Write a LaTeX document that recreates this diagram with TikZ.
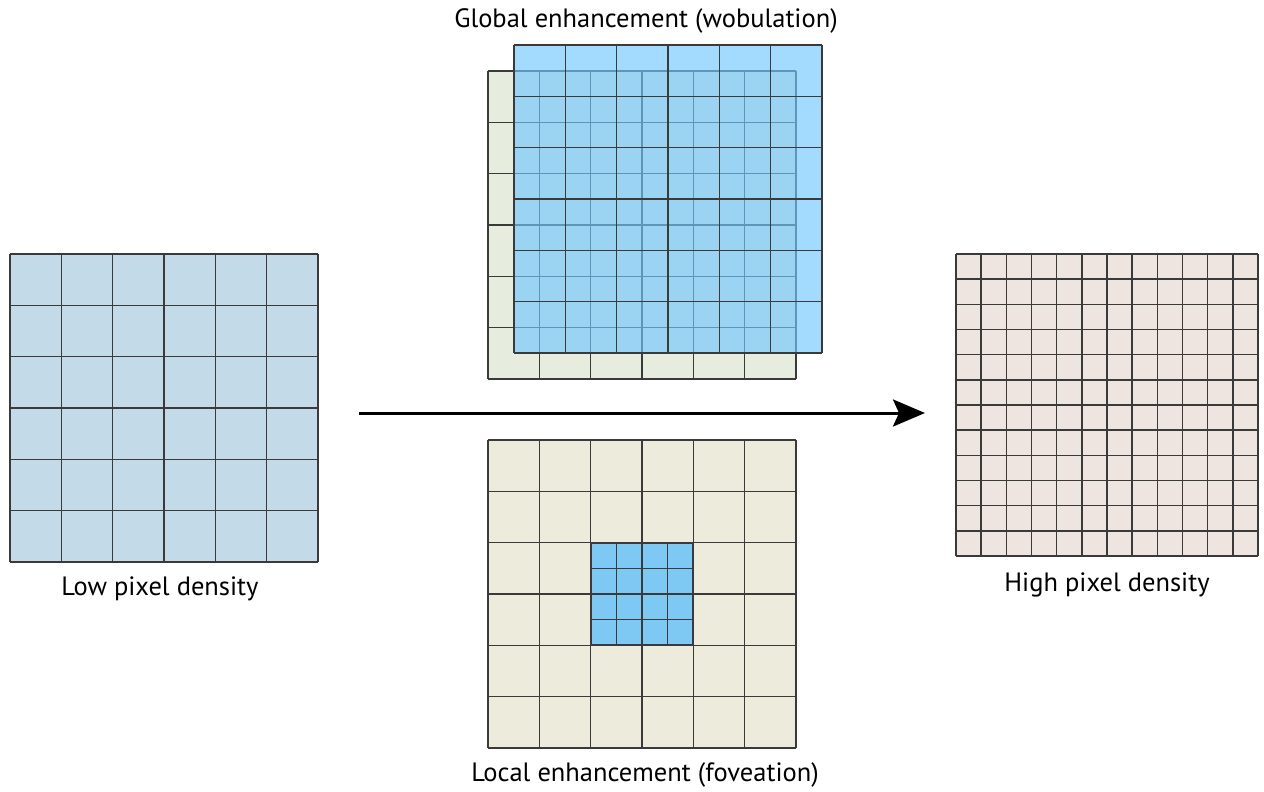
\documentclass[tikz,border=0pt]{standalone}
\usepackage{fontspec}
\setmainfont{PT Sans}
\usetikzlibrary{arrows.meta}
\definecolor{gridline}{HTML}{3A3A3A}
\definecolor{lowfill}{HTML}{C3DAE8}
\definecolor{backfill}{HTML}{E6EDDE}
\definecolor{frontblue}{HTML}{72C8FE}
\definecolor{localfill}{HTML}{ECEBDC}
\definecolor{fovfill}{HTML}{7EC9F3}
\definecolor{highfill}{HTML}{EFE5E0}
\tikzset{
  gridpen/.style={draw=gridline, line width=1.4pt},
  lbl/.style={anchor=base, inner sep=0pt, font=\fontsize{26.5}{30}\selectfont},
}
% \pixgrid{x0}{y0}{size}{n}
\newcommand\pixgrid[4]{%
  \foreach \k in {0,...,#4}{%
    \draw[gridpen] ({#1+\k*#3/#4},#2) -- ({#1+\k*#3/#4},{#2+#3});
    \draw[gridpen] (#1,{#2+\k*#3/#4}) -- ({#1+#3},{#2+\k*#3/#4});
  }%
}
\begin{document}
\begin{tikzpicture}[x=1pt,y=-1pt]
\useasboundingbox (0,0) rectangle (1264,792);
% low pixel density grid
\fill[lowfill] (10,254) rectangle (318,562);
\pixgrid{10}{254}{308}{6}
% global enhancement: back grid
\fill[backfill] (488,71) rectangle (796,379);
\pixgrid{488}{71}{308}{6}
% front blue grid (semi-transparent)
\fill[frontblue,fill opacity=0.65] (514,45) rectangle (822,353);
\pixgrid{514}{45}{308}{6}
% local enhancement grid
\fill[localfill] (488,440) rectangle (796,748);
\pixgrid{488}{440}{308}{6}
\fill[fovfill] (590.67,542.67) rectangle (693.33,645.33);
\pixgrid{590.67}{542.67}{102.67}{4}
\draw[draw=gridline,line width=2.2pt] (590.67,542.67) rectangle (693.33,645.33);
% high pixel density grid
\fill[highfill] (956,254) rectangle (1258,556);
\pixgrid{956}{254}{302}{12}
% arrow
\coordinate (src) at (359,413);
\coordinate (dst) at (925,413);
\draw[line width=3pt,-{Triangle[length=32pt,width=27pt,inset=6pt]}] (src) -- (dst);
% labels
\node[lbl] (glob) at (646,28) {Global enhancement (wobulation)};
\node[lbl] (low) at (160,595) {Low pixel density};
\node[lbl] (high) at (1107,591) {High pixel density};
\node[lbl] (loc) at (645,781) {Local enhancement (foveation)};
\end{tikzpicture}
\end{document}
